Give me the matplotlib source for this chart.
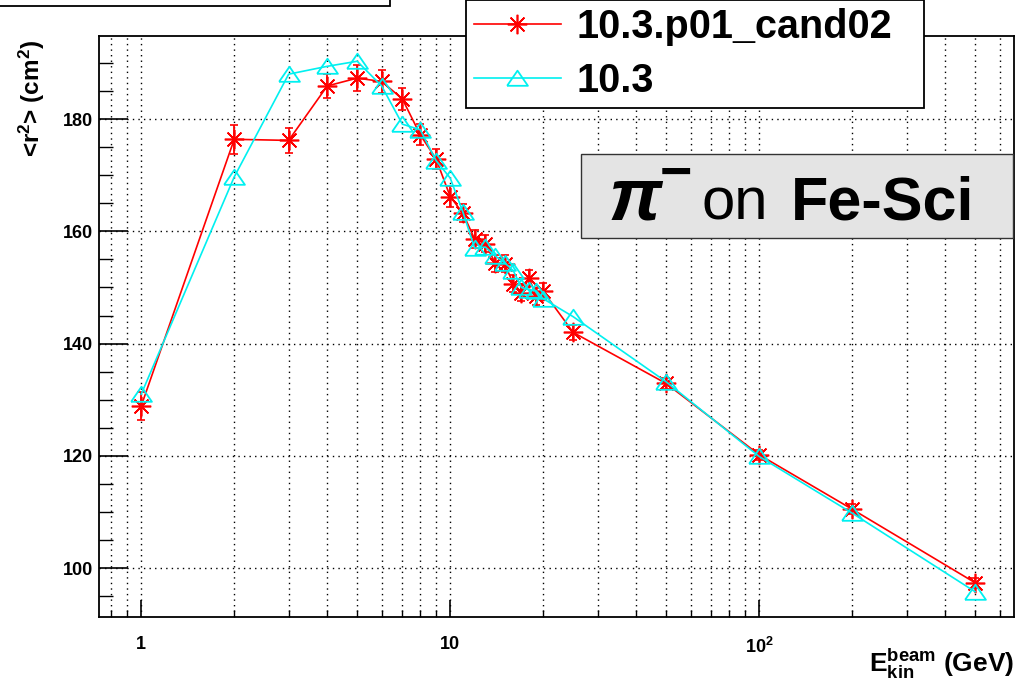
import numpy as np
import matplotlib
matplotlib.use('Agg')
import matplotlib.pyplot as plt
from matplotlib.patches import Rectangle
from matplotlib.ticker import FixedLocator, FixedFormatter, LogLocator, MultipleLocator, NullFormatter


# fonts: helvetica-like bold everywhere, like the ROOT canvas
plt.rcParams['font.family'] = ['Liberation Sans', 'DejaVu Sans']
plt.rcParams['font.weight'] = 'bold'
plt.rcParams['mathtext.fontset'] = 'custom'
plt.rcParams['mathtext.rm'] = 'Liberation Sans:bold'
plt.rcParams['mathtext.it'] = 'Liberation Sans:italic:bold'
plt.rcParams['mathtext.bf'] = 'Liberation Sans:bold'

# data
energies = [1, 2, 3, 4, 5, 6, 7, 8, 9, 10, 11, 12, 13, 14, 15, 16, 17, 18, 19, 20,
            25, 50, 100, 200, 500]
r2_cand02 = [128.9, 176.4, 176.2, 185.9, 187.3, 186.7, 183.6, 177.2, 172.9, 166.2,
             163.2, 158.6, 157.8, 154.3, 154.2, 150.7, 149.1, 151.7, 148.4, 149.3,
             142.0, 132.9, 120.2, 110.5, 97.4]
r2_cand02_err = [2.5, 2.6, 2.2, 2.1, 2.3, 2.0, 1.9, 1.9, 1.8, 1.8,
                 1.6, 1.6, 1.5, 1.5, 1.5, 1.5, 1.5, 1.5, 1.5, 1.5,
                 1.4, 1.0, 0.9, 0.9, 0.9]
r2_ref = [131.0, 169.7, 188.0, 189.4, 190.3, 185.9, 179.1, 178.1, 172.6, 169.5,
          163.4, 157.0, 157.2, 155.6, 154.4, 153.0, 150.0, 149.6, 149.4, 148.0,
          144.8, 133.2, 119.9, 109.8, 95.8]
label_cand02 = '10.3.p01_cand02'
label_ref = '10.3'

W, H = 1018, 683
fig = plt.figure(figsize=(W / 100, H / 100), dpi=100)
ax = fig.add_axes([99 / W, 1 - 617 / H, (1014 - 99) / W, (617 - 36) / H])

red = '#ff0000'
cyan = '#00f0f0'

# ROOT-like flattened open triangle
tri = [(-1.0, -0.7), (1.0, -0.7), (0.0, 0.75), (-1.0, -0.7)]

eb = ax.errorbar(energies, r2_cand02, yerr=r2_cand02_err, color=red, lw=1.2,
                 marker=(8, 2, 0), markersize=14, markeredgewidth=1.2,
                 elinewidth=1.3, capsize=3, capthick=1.3, zorder=3)
ln_ref, = ax.plot(energies, r2_ref, color=cyan, lw=1.2, marker=tri,
                  markersize=15, markerfacecolor='none', markeredgecolor=cyan,
                  markeredgewidth=1.3, zorder=4)

ax.set_xscale('log')
ax.set_xlim(0.73, 668)
ax.set_ylim(91.3, 194.8)

# ticks
ax.xaxis.set_major_locator(FixedLocator([1, 10, 100]))
ax.xaxis.set_major_formatter(FixedFormatter(['1', '10', r'$10^{2}$']))
ax.xaxis.set_minor_locator(LogLocator(base=10, subs=np.arange(2, 10), numticks=20))
ax.xaxis.set_minor_formatter(NullFormatter())
ax.yaxis.set_major_locator(MultipleLocator(20))
ax.yaxis.set_minor_locator(MultipleLocator(5))
ax.tick_params(axis='x', which='major', direction='in', length=12, width=1.2,
               labelsize=13, pad=14, top=False)
ax.tick_params(axis='x', which='minor', direction='in', length=5, width=1.0, top=False)
ax.tick_params(axis='y', which='major', direction='in', length=21, width=1.2,
               labelsize=13, pad=4, right=False)
ax.tick_params(axis='y', which='minor', direction='in', length=10, width=1.0, right=False)
for spine in ax.spines.values():
    spine.set_linewidth(1.3)

ax.grid(True, axis='x', which='both', color='black', lw=1.0, ls=(0, (1, 3)))
ax.grid(True, axis='y', which='major', color='black', lw=1.0, ls=(0, (1, 3)))

# axis titles
fig.text(32 / W, 1 - 40 / H, r'<r$^{2}$> (cm$^{2}$)', rotation=90, ha='center',
         va='top', fontsize=17.5, fontweight='bold')
fig.text(1014 / W, 1 - 672 / H, r'$\mathrm{E}_{\mathrm{kin}}^{\mathrm{beam}}$ (GeV)',
         ha='right', va='baseline', fontsize=19, fontweight='bold')

# legend
leg = ax.legend([eb[0], ln_ref], [label_cand02, label_ref], loc='lower left',
                bbox_to_anchor=(466 / W, 1 - 108 / H, (924 - 466) / W, 0.3),
                bbox_transform=fig.transFigure, mode='expand', fancybox=False,
                edgecolor='black', framealpha=1, handlelength=2.2,
                handletextpad=0.4, borderaxespad=0, borderpad=0.2,
                labelspacing=0.4, prop={'weight': 'bold', 'size': 28.5})
leg.get_frame().set_linewidth(1.3)

# title box at the top left (cut by the canvas edge)
fig.patches.append(Rectangle((-0.01, 1 - 6 / H), 390 / W + 0.01, 0.05,
                             transform=fig.transFigure, facecolor='white',
                             edgecolor='black', lw=1.3, zorder=5))

# pi- on Fe-Sci label
fig.patches.append(Rectangle((581 / W, 1 - 238 / H), (1013 - 581) / W, (238 - 154) / H,
                             transform=fig.transFigure, facecolor='#e4e4e4',
                             edgecolor='#333333', lw=1.0, zorder=5))
base = 1 - 219 / H
fig.text(609 / W, base, '\u03c0', fontsize=54, fontweight='bold', fontstyle='italic',
         ha='left', va='baseline', zorder=6)
fig.text(660 / W, 1 - 190 / H, '\u2212', fontsize=40, fontweight='bold',
         ha='left', va='baseline', zorder=6)
fig.text(702 / W, base, 'on', fontsize=43, fontweight='normal',
         ha='left', va='baseline', zorder=6)
fig.text(791 / W, base, 'Fe-Sci', fontsize=44, fontweight='bold',
         ha='left', va='baseline', zorder=6)

fig.savefig('out.png', dpi=100)
